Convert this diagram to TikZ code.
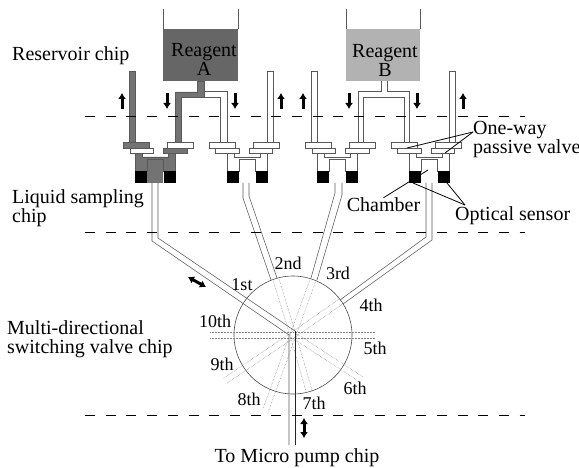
\documentclass[tikz,border=0pt]{standalone}
\usepackage{fontspec}
\setmainfont{Liberation Serif}
\usetikzlibrary{arrows.meta}

\tikzset{
  tube/.style={black!65,line width=0.55pt},
  channel/.style={black!50,line width=0.5pt,densely dotted},
  chipline/.style={line width=0.8pt,dash pattern=on 10pt off 10.7pt},
  flow/.style={-{Latex[length=6pt,width=8pt]},line width=3pt},
  flowboth/.style={{Latex[length=6pt,width=8pt]}-{Latex[length=6pt,width=8pt]},line width=3pt},
  lead/.style={line width=0.8pt},
  lbl/.style={font=\fontsize{20}{19}\selectfont,inner sep=0pt,align=left},
  portlbl/.style={font=\fontsize{18}{18}\selectfont,inner sep=0pt},
}

\begin{document}
\begin{tikzpicture}[x=1pt,y=-1pt]
  \useasboundingbox (0,0) rectangle (579,468);
  % reservoirs
  \foreach \xa/\xb/\shade in {163/238/black!60,346/420/black!30}{
    \fill[\shade] (\xa,29) rectangle (\xb,81);
    \draw[tube] (\xa,9) -- (\xa,29);
    \draw[tube] (\xb,9) -- (\xb,29);
  }
  \node[lbl,align=center] (reagentA) at (204,59) {Reagent\\A};
  \node[lbl,align=center] (reagentB) at (385,60) {Reagent\\B};
  % sampling units
  \foreach \cx/\flip/\shade in {155/1/black!55,247/-1/white,337/1/white,429/-1/white}{
    \begin{scope}[shift={(\cx,0)},xscale=\flip]
      \draw[tube,fill=\shade] (-26,71) rectangle (-20,142);
      \fill[\shade] (-8,157) rectangle (8,183);
      \draw[tube,fill=\shade] (-20,153) -- (-20,171) -- (-8,171) -- (-8,159) -- (8,159) -- (8,171) -- (20,171)
         -- (20,153) -- (13,153) -- (13,157) -- (-13,157) -- (-13,153) -- cycle;
      \draw[tube,fill=\shade] (-32,142) rectangle (-6,148);
      \draw[tube,fill=white] (-25,148) rectangle (-2,153);
      \draw[tube,fill=\shade] (8,148) rectangle (32,153);
      \draw[tube,fill=white] (12,142) rectangle (38,148);
      \fill (-20.5,171) rectangle (-8.5,183);
      \fill (8.5,171) rectangle (20.5,183);
    \end{scope}
  }
  % manifolds
  \draw[tube] (204,91) -- (227,91) -- (227,142);
  \draw[tube] (204,97) -- (220,97) -- (220,142);
  \draw[tube,fill=black!55] (197,81) -- (204,81) -- (204,97) -- (181,97) -- (181,142) -- (175,142) -- (175,92) -- (197,92) -- cycle;
  \draw[tube] (381,81) -- (381,91) -- (358,91) -- (358,142);
  \draw[tube] (387,81) -- (387,91) -- (409,91) -- (409,142);
  \draw[tube] (363,142) -- (363,97) -- (404,97) -- (404,142);
  % switching valve
  \node[circle,draw=black!70,line width=0.6pt,minimum size=118pt,inner sep=0pt] (valve) at (293,335) {};
  \foreach \ang/\len in {35/59,70/59,107/59,0/82,327/82,286/59,250/81,214/82,180/83}{
    \begin{scope}[shift={(293,335)},rotate=\ang]
      \draw[channel] (0,-3) -- (\len,-3);
      \draw[channel] (0,3) -- (\len,3);
    \end{scope}
  }
  % outlets
  \draw[tube] (152,183) -- (152,241) -- (289,335) -- (289,445);
  \draw[tube] (158,183) -- (158,238) -- (295,331);
  \draw[tube,black!85] (295,331) -- (295,445);
  \draw[tube] (243,183) -- (243,198) -- (271,280);
  \draw[tube] (249,183) -- (249,196) -- (277,278);
  \draw[tube] (335,183) -- (335,193) -- (311,278);
  \draw[tube] (342,183) -- (342,195) -- (317,280);
  \draw[tube] (426,183) -- (426,237) -- (340,300);
  \draw[tube] (432,183) -- (432,240) -- (343,304);
  % chip borders
  \draw[chipline] (85,116) -- (525,116);
  \draw[chipline] (85,232) -- (525,232);
  \draw[chipline] (85,415) -- (525,415);
  % flow arrows
  \foreach \xp in {122,281,303,463}{ \draw[flow] (\xp,109) -- (\xp,93); }
  \foreach \xp in {167,235,349,417}{ \draw[flow] (\xp,93) -- (\xp,109); }
  \draw[flowboth] (188,277) -- (206,287);
  \draw[flowboth] (304,418) -- (304,438);
  % labels
  \node[lbl,anchor=west] (reservoir) at (12,56) {Reservoir chip};
  \node[lbl,anchor=west] (liquid) at (12,208) {Liquid sampling\\chip};
  \node[lbl,anchor=west] (multi) at (7,339) {Multi-directional\\switching valve chip};
  \node[lbl,anchor=west] (oneway) at (473,140) {One-way\\passive valve};
  \node[lbl] (chamber) at (383.5,205) {Chamber};
  \node[lbl,anchor=west] (sensor) at (455,216) {Optical sensor};
  \node[portlbl] (p1) at (242,285) {1st};
  \node[portlbl] (p2) at (288,263) {2nd};
  \node[portlbl] (p3) at (338,273) {3rd};
  \node[portlbl] (p4) at (371,305) {4th};
  \node[portlbl] (p5) at (375,348) {5th};
  \node[portlbl] (p6) at (355,388) {6th};
  \node[portlbl] (p7) at (314,403) {7th};
  \node[portlbl] (p8) at (249,399) {8th};
  \node[portlbl] (p9) at (222,364) {9th};
  \node[portlbl] (p10) at (215,321) {10th};
  \node[lbl] (pump) at (297,458) {To Micro pump chip};
  % leaders
  \coordinate (onewayTip) at (473,132);
  \coordinate (sensorTip) at (465,205);
  \coordinate (valveA) at (407,148);
  \coordinate (valveB) at (445,153);
  \coordinate (sensorA) at (413,183);
  \coordinate (sensorB) at (447,183);
  \coordinate (chamberEnd) at (428,170);
  \draw[lead] (onewayTip) -- (valveA);
  \draw[lead] (onewayTip) -- (valveB);
  \draw[lead] (sensorTip) -- (sensorA);
  \draw[lead] (sensorTip) -- (sensorB);
  \draw[lead] (chamber.north) -- (chamberEnd);
\end{tikzpicture}
\end{document}
